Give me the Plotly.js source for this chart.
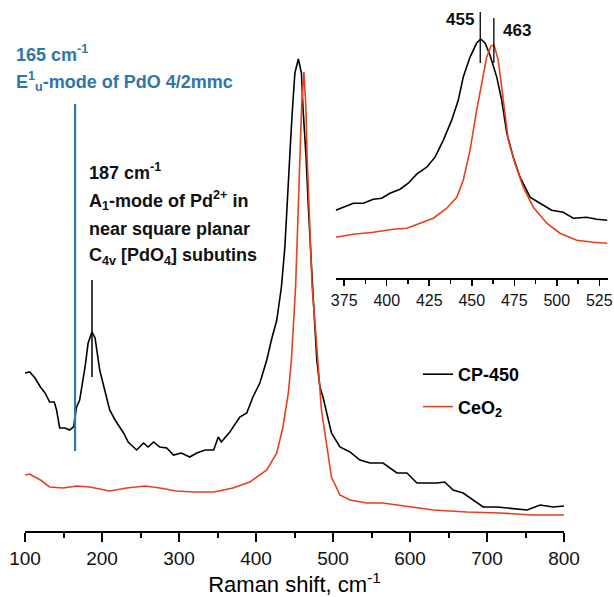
<!DOCTYPE html>
<html>
<head>
<meta charset="utf-8">
<script src="https://cdn.plot.ly/plotly-3.0.1.min.js"></script>
<style>html,body{margin:0;padding:0;background:#fff;}#chart{width:614px;height:597px;}</style>
</head>
<body>
<div id="chart"></div>
<script>
// ---- main spectrum: CP-450 ----
const cp450Shift = [100,106,113,120,126,132,138,141,145,152,158,163,167,171,178,182,187,191,197,204,210,217,223,228,234,245,254,260,267,275,284,293,303,314,323,334,345,351,355,366,379,388,396,405,414,420,427,433,437.5,442,445,447.5,450.5,455,459,461,465,468,471,473.5,476.5,479,483,487,498,509,522,535,548,565,583,596,609,622,635,645,656,669,682,695,713,730,752,769,786,800];
const cp450Intensity = [158,159,153,144,138,129,129,121,103,103,101,104,124,131,164,188,199,193,161,141,121,111,104,98,89,81,88,84,89,84,83,76,78,74,78,81,81,94,89,99,114,118,134,148,171,191,211,244,284,341,391,424,458,472,458,424,374,324,274,244,204,171,144,134,98,84,79,71,68,68,58,58,48,48,48,49,41,38,31,24,24,23,21,26,24,25];

// ---- main spectrum: CeO2 ----
const ceo2Shift = [100,106,120,132,150,167,184,197,210,232,256,275,297,319,345,370,392,414,427,435,442,446,451.4,453.5,456,459.2,462.2,464.8,466.4,469,471.2,472.9,478.6,485,498,509,522,544,565,600,630,674,717,760,800];
const ceo2Intensity = [56,57,51,44,43,45,44,42,40,43,45,43,40,39,39,43,49,61,78,104,138,171,244,291,358,424,459,424,374,324,274,244,188,121,54,36,31,28,28,24,21,19,18,16,16];

// ---- inset (370-530 cm-1) ----
const insetCp450Shift = [370,374.5,380.4,386.2,392.1,397.1,401.9,407.8,412.7,417.6,423.5,428.4,433.3,438.2,442.1,445,449,452.9,455.3,457.8,460.7,464.7,467.6,470.6,474.4,478.4,484.3,490.1,497,503.8,509.7,517.6,523.5,529.7];
const insetCp450Intensity = [68,71,75,75,79,80,85,89,95,104,111,121,138,158,178,201,221,235,239,235,223,201,178,145,121,101,81,75,68,66,60,61,59,58];
const insetCeo2Shift = [370,380.4,392.1,403.9,411.8,419.6,427.4,435.3,441.2,445,449,452.9,456.4,458.8,461.3,463.1,465.6,468.6,471.5,475.4,480.3,486.2,494.1,501.9,511.7,521.5,529.7];
const insetCeo2Intensity = [41,44,46,49,50,55,60,70,81,98,128,168,201,221,232,233,218,178,138,115,91,71,55,45,38,36,35];

// ---- axes / labels ----
const mainTicks = [100,200,300,400,500,600,700,800];
const insetTicks = [375,400,425,450,475,500,525];
const seriesNames = ['CP-450','CeO<sub>2</sub>'];
const markedPeaks = {pdo: 165, pd2: 187, cp: 455, ceo2: 463};

const BLACK = '#000000', RED = '#e4421c', BLUE = '#2f76a9';
const FONT = 'Liberation Sans, Arial, sans-serif';

// pixel helpers for placing text (plot area: x 25..609, y 5..531)
const PX = x => (x - 25) / 584;
const PY = y => (531 - y) / 526;

const traces = [
  {x: cp450Shift, y: cp450Intensity, type: 'scatter', mode: 'lines', name: seriesNames[0],
   line: {color: BLACK, width: 1.6}, xaxis: 'x', yaxis: 'y', legendgroup: 'a'},
  {x: ceo2Shift, y: ceo2Intensity, type: 'scatter', mode: 'lines', name: seriesNames[1],
   line: {color: RED, width: 1.6}, xaxis: 'x', yaxis: 'y', legendgroup: 'b'},
  {x: insetCp450Shift, y: insetCp450Intensity, type: 'scatter', mode: 'lines', showlegend: false,
   line: {color: BLACK, width: 1.6}, xaxis: 'x2', yaxis: 'y2'},
  {x: insetCeo2Shift, y: insetCeo2Intensity, type: 'scatter', mode: 'lines', showlegend: false,
   line: {color: RED, width: 1.6}, xaxis: 'x2', yaxis: 'y2'}
];

const mainDomainEnd = 539 / 584;

const layout = {
  width: 614, height: 597,
  margin: {l: 25, r: 5, t: 5, b: 66},
  paper_bgcolor: '#fff', plot_bgcolor: 'rgba(0,0,0,0)',
  font: {family: FONT, color: '#000'},
  showlegend: true,
  legend: {x: PX(418), y: PY(356), xanchor: 'left', yanchor: 'top',
           bgcolor: 'rgba(0,0,0,0)', traceorder: 'grouped', tracegroupgap: 6,
           font: {family: FONT, size: 18, weight: 'bold', color: '#000'}},
  xaxis: {domain: [0, mainDomainEnd], range: [100, 800], tickvals: mainTicks,
          showline: true, linecolor: '#000', linewidth: 2, ticks: 'outside', ticklen: 9, tickwidth: 2,
          tickcolor: '#000', showgrid: false, zeroline: false, automargin: false,
          tickfont: {family: FONT, size: 19, color: '#111'},
          minor: {dtick: 50, tick0: 100, ticks: 'outside', ticklen: 5, tickwidth: 2, tickcolor: '#000', showgrid: false},
          title: {text: 'Raman shift, cm<sup>-1</sup>', font: {family: FONT, size: 22, color: '#000'}, standoff: 1}},
  yaxis: {domain: [0, 1], range: [0, 526], visible: false, fixedrange: true},
  xaxis2: {anchor: 'y2', domain: [PX(335.7), PX(607.8)], range: [370, 530], tickvals: insetTicks,
           showline: true, linecolor: '#000', linewidth: 2, ticks: 'outside', ticklen: 6, tickwidth: 1.5,
           tickcolor: '#000', showgrid: false, zeroline: false, automargin: false,
           tickfont: {family: FONT, size: 16, color: '#111'},
           minor: {dtick: 25, tick0: 387.5, ticks: 'outside', ticklen: 4, tickwidth: 1.5, tickcolor: '#000', showgrid: false}},
  yaxis2: {anchor: 'x2', domain: [PY(278.3), 1], range: [0, 273], visible: false},
  shapes: [
    {type: 'line', xref: 'x', yref: 'y', x0: markedPeaks.pdo, x1: markedPeaks.pdo, y0: 80, y1: 427,
     line: {color: BLUE, width: 2.2}},
    {type: 'line', xref: 'x', yref: 'y', x0: markedPeaks.pd2, x1: markedPeaks.pd2, y0: 154, y1: 251,
     line: {color: BLACK, width: 1.5}},
    {type: 'line', xref: 'x2', yref: 'y2', x0: markedPeaks.cp, x1: markedPeaks.cp, y0: 215, y1: 266,
     line: {color: BLACK, width: 1.3}},
    {type: 'line', xref: 'x2', yref: 'y2', x0: markedPeaks.ceo2, x1: markedPeaks.ceo2, y0: 215, y1: 260,
     line: {color: BLACK, width: 1.3}}
  ],
  annotations: [
    {text: '<b>165 cm<sup>-1</sup></b>', x: PX(14), y: PY(53), font: {size: 18, color: BLUE}},
    {text: '<b>E<sup>1</sup><sub>u</sub>-mode of PdO 4/2mmc</b>', x: PX(14), y: PY(82), font: {size: 18, color: BLUE}},
    {text: '<b>187 cm<sup>-1</sup></b>', x: PX(87), y: PY(171), font: {size: 18, color: '#111'}},
    {text: '<b>A<sub>1</sub>-mode of Pd<sup>2+</sup> in</b>', x: PX(87), y: PY(200), font: {size: 18, color: '#111'}},
    {text: '<b>near square planar</b>', x: PX(87), y: PY(229), font: {size: 18, color: '#111'}},
    {text: '<b>C<sub>4v</sub> [PdO<sub>4</sub>] subutins</b>', x: PX(87), y: PY(256), font: {size: 18, color: '#111'}},
    {text: '<b>455</b>', x: PX(476), y: PY(20), xanchor: 'right', font: {size: 17, color: '#111'}},
    {text: '<b>463</b>', x: PX(501), y: PY(30), xanchor: 'left', font: {size: 17, color: '#111'}}
  ].map(a => Object.assign({xref: 'paper', yref: 'paper', xanchor: 'left', yanchor: 'middle',
                           showarrow: false}, a, {font: Object.assign({family: FONT}, a.font)}))
};

Plotly.newPlot('chart', traces, layout, {displayModeBar: false, staticPlot: true});
</script>
</body>
</html>
